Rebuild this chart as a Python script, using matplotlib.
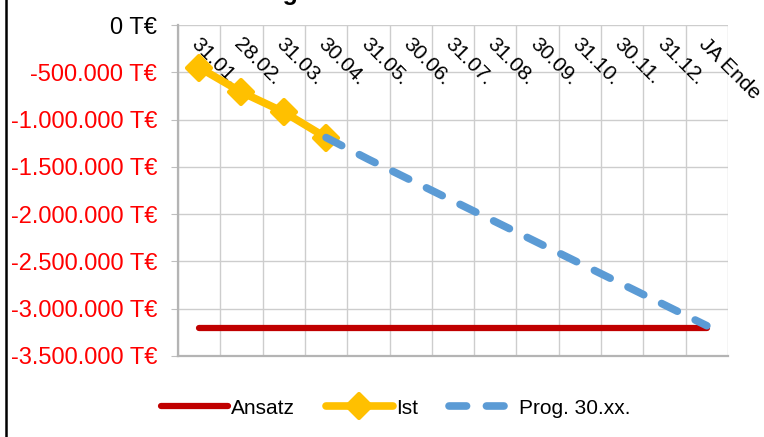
import matplotlib
matplotlib.use('Agg')
import matplotlib.pyplot as plt
import matplotlib.transforms as mtransforms
from matplotlib.lines import Line2D
from matplotlib.markers import MarkerStyle
import numpy as np

categories = ['31.01.', '28.02.', '31.03.', '30.04.', '31.05.', '30.06.', '31.07.',
              '31.08.', '30.09.', '31.10.', '30.11.', '31.12.', 'JA Ende']
ansatz = [-3200000, -3200000, -3200000, -3200000, -3200000, -3200000, -3200000,
          -3200000, -3200000, -3200000, -3200000, -3200000, -3200000]
ist = [-450000, -710000, -920000, -1190000]
prog = [-1190000, -1420000, -1640000, -1860000, -2080000, -2300000, -2520000,
        -2740000, -2960000, -3180000]
prog_start = 3
y_ticks = [0, -500000, -1000000, -1500000, -2000000, -2500000, -3000000, -3500000]

plt.rcParams['font.family'] = ['Liberation Sans', 'DejaVu Sans']

fig = plt.figure(figsize=(7.64, 4.37), dpi=100)
ax = fig.add_axes([178 / 764, 1 - 356 / 437, 550 / 764, 331 / 437])

x = np.arange(len(categories))

ax.plot(x, ansatz, color='#C00000', lw=4.5, solid_capstyle='round', label='Ansatz', zorder=3)
ax.plot(x[:len(ist)], ist, color='#FFC000', lw=5.5, solid_capstyle='round',
        marker=MarkerStyle('D', joinstyle='round'), markersize=12,
        markeredgewidth=3, label='Ist', zorder=4)
ax.plot(x[prog_start:prog_start + len(prog)], prog, color='#5B9BD5', lw=5.5,
        dashes=(2.3, 2.6), dash_capstyle='round', label='Prog. 30.xx.', zorder=5)

ax.set_xlim(-0.5, len(categories) - 0.5)
ax.set_ylim(-3500000, 0)

# gridlines between categories, like Excel
ax.set_xticks(np.arange(-0.5, len(categories), 1))
ax.set_xticklabels([])
ax.tick_params(axis='x', length=0)
ax.set_yticks(y_ticks)
ax.set_yticklabels(['{:,.0f} T€'.format(v).replace(',', '.') for v in y_ticks], fontsize=17)
ax.tick_params(axis='y', length=5, color='#BFBFBF', pad=10)
for lab, v in zip(ax.get_yticklabels(), y_ticks):
    lab.set_color('black' if v == 0 else '#FF0000')

ax.grid(True, color='#CDCDCD', lw=1)
ax.set_axisbelow(True)
for side in ['top', 'right']:
    ax.spines[side].set_visible(False)
for side in ['left', 'bottom']:
    ax.spines[side].set_color('#B4B4B4')
    ax.spines[side].set_linewidth(1.6)

# category labels at the top, inside the plot area
trans = mtransforms.offset_copy(ax.get_xaxis_transform(), fig=fig, x=2, y=-9, units='dots')
for i, cat in enumerate(categories):
    ax.text(i, 1, cat, transform=trans, rotation=-45, rotation_mode='anchor',
            ha='left', va='top', fontsize=15, clip_on=False)

ax.legend(loc='center', bbox_to_anchor=(0.518, 0.066), bbox_transform=fig.transFigure,
          ncol=3, frameon=False, fontsize=15, handlelength=3.2, handletextpad=0.15,
          columnspacing=1.5)

# title mostly cut off above the image
fig.text(298 / 764, 1.0, 'Entwicklung', fontsize=18, fontweight='bold',
         ha='right', va='baseline')

fig.add_artist(Line2D([5.5 / 764, 5.5 / 764], [0, 1], transform=fig.transFigure,
                      color='black', lw=1.8))

fig.savefig('out.png', dpi=100)
